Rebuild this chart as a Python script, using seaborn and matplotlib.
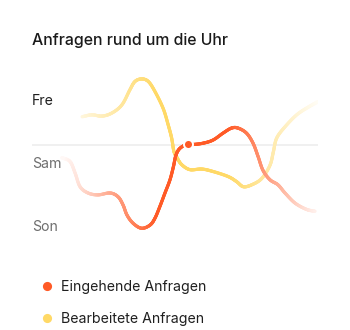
import numpy as np
import matplotlib
matplotlib.use("Agg")
import matplotlib.pyplot as plt
from matplotlib.collections import LineCollection
from matplotlib.lines import Line2D
import seaborn as sns

sns.set_theme(style="white")
plt.rcParams["font.family"] = ["Inter", "DejaVu Sans"]

# ---- data -------------------------------------------------------------
title = "Anfragen rund um die Uhr"
day_labels = ["Fre", "Sam", "Son"]
day_positions = [0, 1, 2]
series_names = ["Eingehende Anfragen", "Bearbeitete Anfragen"]
series_colors = ["#FF5A26", "#FFD966"]

# incoming requests: hour of day -> day position
incoming_hours = [2.50, 3.19, 3.61, 4.03, 4.70, 5.54, 6.55, 7.22, 7.64, 7.97,
                  8.48, 9.19, 9.90, 10.32, 10.74, 11.16, 11.58, 11.87, 12.08,
                  12.42, 13.09, 13.51, 14.35, 15.19, 16.03, 16.74, 17.29,
                  18.00, 18.55, 18.97, 19.38, 19.97, 20.64, 21.23, 22.07,
                  23.03, 23.75]
incoming_days = [0.90, 0.96, 1.14, 1.36, 1.46, 1.49, 1.46, 1.52, 1.65, 1.81,
                 1.94, 2.02, 1.97, 1.86, 1.67, 1.46, 1.25, 1.04, 0.86, 0.75,
                 0.68, 0.69, 0.67, 0.62, 0.51, 0.43, 0.43, 0.51, 0.67, 0.88,
                 1.10, 1.25, 1.33, 1.46, 1.62, 1.72, 1.75]

# processed requests: hour of day -> day position
processed_hours = [4.20, 5.03, 5.87, 6.71, 7.55, 8.22, 8.64, 9.20, 9.76,
                   10.32, 11.01, 11.43, 11.72, 11.91, 12.17, 12.56, 13.26,
                   14.24, 15.21, 16.47, 17.17, 17.73, 18.44, 19.28, 19.97,
                   20.25, 20.53, 21.23, 22.21, 23.16, 24.00]
processed_days = [0.25, 0.22, 0.24, 0.19, 0.06, -0.18, -0.31, -0.35, -0.31,
                  -0.15, 0.12, 0.38, 0.59, 0.80, 0.90, 1.01, 1.09, 1.08, 1.12,
                  1.20, 1.28, 1.36, 1.33, 1.23, 1.02, 0.81, 0.59, 0.41, 0.22,
                  0.10, 0.01]

# latest incoming value (highlighted point)
latest_hour = 13.09
latest_day = 0.68
now_level = 0.70

# ---- figure -----------------------------------------------------------
W, H = 350, 330
fig = plt.figure(figsize=(W / 100, H / 100), dpi=100)
fig.patch.set_facecolor("white")

x0, x1 = 32, 318
y_top, y_bot = 60, 240
ax = fig.add_axes([x0 / W, 1 - y_bot / H, (x1 - x0) / W, (y_bot - y_top) / H])
ax.set_xlim(0, 24)
ax.set_ylim((y_bot - 101) / 63, (y_top - 101) / 63)
ax.axis("off")


def smooth(xs, ys, n=16):
    """Catmull-Rom curve through the given points."""
    p = np.column_stack([xs, ys]).astype(float)
    p = np.vstack([p[0] * 2 - p[1], p, p[-1] * 2 - p[-2]])
    out = []
    t = np.linspace(0, 1, n, endpoint=False)[:, None]
    for i in range(1, len(p) - 2):
        a, b, c, d = p[i - 1], p[i], p[i + 1], p[i + 2]
        seg = 0.5 * ((2 * b) + (-a + c) * t + (2 * a - 5 * b + 4 * c - d) * t ** 2
                     + (-a + 3 * b - 3 * c + d) * t ** 3)
        out.append(seg)
    out.append(p[-2][None, :])
    return np.vstack(out)


def faded_line(xs, ys, color, z):
    pts = smooth(xs, ys)
    segs = np.stack([pts[:-1], pts[1:]], axis=1)
    mid = segs.mean(axis=1)[:, 0]
    dist = np.abs(mid - 13.5)
    alpha = np.clip(1 - (dist - 3.0) / 8.0, 0.04, 1.0)
    rgb = np.array(matplotlib.colors.to_rgb(color))
    cols = 1 - alpha[:, None] * (1 - rgb[None, :])
    lc = LineCollection(segs, colors=cols, linewidths=2.3,
                        capstyle="round", joinstyle="round", zorder=z)
    ax.add_collection(lc)


ax.axhline(now_level, color="#EEEEEE", lw=1.2, zorder=1)

faded_line(processed_hours, processed_days, series_colors[1], 2)
faded_line(incoming_hours, incoming_days, series_colors[0], 3)

sns.scatterplot(x=[latest_hour], y=[latest_day], ax=ax, s=42,
                color=series_colors[0], edgecolor="white", linewidth=1.4,
                zorder=5, legend=False)

label_colors = ["#1F1F1F", "#6E6E6E", "#6E6E6E"]
for lab, pos, c in zip(day_labels, day_positions, label_colors):
    ax.text(0, pos, lab, transform=ax.get_yaxis_transform(), ha="left",
            va="center", fontsize=10.2, color=c)

fig.text(x0 / W, 1 - 40 / H, title, ha="left", va="center",
         fontsize=11.4, color="#1A1A1A", fontweight="medium")

handles = [Line2D([], [], ls="none", marker="o", markersize=6.6,
                  markerfacecolor=c, markeredgecolor="none")
           for c in series_colors]
fig.legend(handles, series_names, loc="upper left",
           bbox_to_anchor=(40 / W, 1 - 280 / H), frameon=False,
           fontsize=10.2, handletextpad=0.5, labelspacing=1.3,
           handlelength=1.0, borderaxespad=0, borderpad=0,
           labelcolor="#1F1F1F")

fig.savefig("out.png", dpi=100, facecolor="white")
